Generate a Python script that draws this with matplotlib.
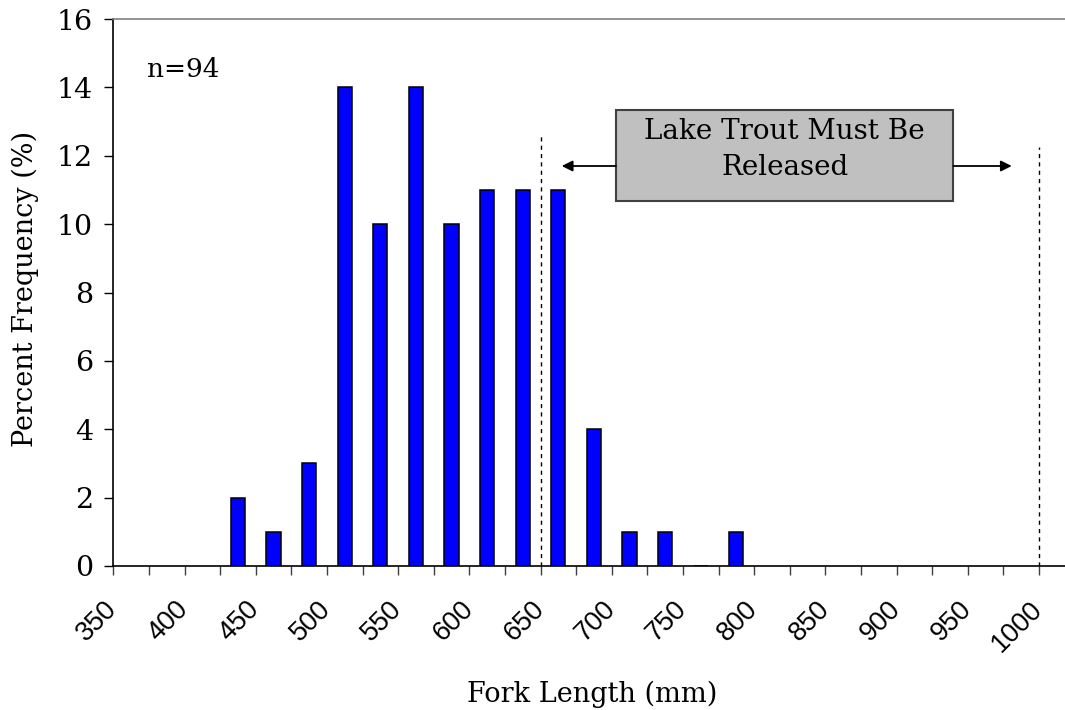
import matplotlib
matplotlib.use("Agg")
import matplotlib.pyplot as plt
from matplotlib.patches import Rectangle
from matplotlib.ticker import FixedLocator

# ---- data ----
bin_lower = [425, 450, 475, 500, 525, 550, 575, 600, 625, 650, 675, 700, 725, 750, 775]
percent = [2, 1, 3, 14, 10, 14, 10, 11, 11, 11, 4, 1, 1, 0, 1]
bin_width = 25
x_tick_values = [350, 400, 450, 500, 550, 600, 650, 700, 750, 800, 850, 900, 950, 1000]
x_tick_labels = ['350', '400', '450', '500', '550', '600', '650', '700', '750', '800',
                 '850', '900', '950', '1000']
x_minor_values = [375, 425, 475, 525, 575, 625, 675, 725, 775, 825, 875, 925, 975]
y_ticks = [0, 2, 4, 6, 8, 10, 12, 14, 16]
limit_lines = [650, 1000]
limit_tops = [12.65, 12.26]
sample_label = "n=94"
box_lines = ["Lake Trout Must Be", "Released"]

SERIF = ['DejaVu Serif']
SANS = ['Liberation Sans', 'DejaVu Sans']

fig = plt.figure(figsize=(10.65, 7.10), dpi=100)
ax = fig.add_axes([113.3 / 1065, 1 - 566 / 710, 1 - 113.3 / 1065, (566 - 19) / 710])

centers = [b + bin_width / 2 for b in bin_lower]
ax.bar(centers, percent, width=10, color='#0000FF', edgecolor='black', linewidth=1.1, zorder=3)

ax.set_xlim(350, 1018.3)
ax.set_ylim(0, 16)

# limit lines
for xv, top in zip(limit_lines, limit_tops):
    ax.plot([xv, xv], [0, top], color='black', lw=1.0, linestyle=(0, (3, 3)), zorder=2)

# annotation box
bx0, bx1, by0, by1 = 703.0, 940.0, 10.68, 13.34
ax.add_patch(Rectangle((bx0, by0), bx1 - bx0, by1 - by0, facecolor='#C0C0C0',
                       edgecolor='#404040', lw=1.5, zorder=4))
for txt, yb in zip(box_lines, [12.48, 11.45]):
    ax.text((bx0 + bx1) / 2, yb, txt, ha='center', va='baseline',
            fontsize=20, family=SERIF, zorder=5)
arrow_y = 11.70
ax.annotate('', xy=(664.9, arrow_y), xytext=(bx0, arrow_y),
            arrowprops=dict(arrowstyle='-|>', color='black', lw=1.3, mutation_scale=16,
                            shrinkA=0, shrinkB=0), zorder=5)
ax.annotate('', xy=(980.9, arrow_y), xytext=(bx1, arrow_y),
            arrowprops=dict(arrowstyle='-|>', color='black', lw=1.3, mutation_scale=16,
                            shrinkA=0, shrinkB=0), zorder=5)

ax.text(373.7, 14.30, sample_label, ha='left', va='baseline', fontsize=19, family=SERIF)

# spines
ax.spines['right'].set_visible(False)
ax.spines['top'].set_color('#808080')
ax.spines['top'].set_linewidth(1.2)
ax.spines['left'].set_linewidth(1.2)
ax.spines['bottom'].set_linewidth(1.2)

# ticks
ax.xaxis.set_major_locator(FixedLocator(x_tick_values))
ax.xaxis.set_minor_locator(FixedLocator(x_minor_values))
ax.set_xticklabels(x_tick_labels)
ax.set_yticks(y_ticks)
ax.set_yticklabels([str(v) for v in y_ticks])
ax.tick_params(axis='x', which='both', direction='out', length=6.3, width=1.0,
               color='#404040', pad=22)
ax.tick_params(axis='y', direction='out', length=6.5, width=1.0, pad=8)
for lab in ax.get_xticklabels():
    lab.set(rotation=45, ha='right', va='center', rotation_mode='anchor',
            fontsize=19.5, family=SANS)
for lab in ax.get_yticklabels():
    lab.set(fontsize=20.5, family=SERIF)

fig.text(592 / 1065, 1 - 694 / 710, "Fork Length (mm)", ha='center', va='center',
         fontsize=19.5, family=SERIF)
fig.text(25 / 1065, 1 - 289 / 710, "Percent Frequency (%)", ha='center', va='center',
         rotation=90, fontsize=19.5, family=SERIF)

fig.savefig("out.png", dpi=100)
